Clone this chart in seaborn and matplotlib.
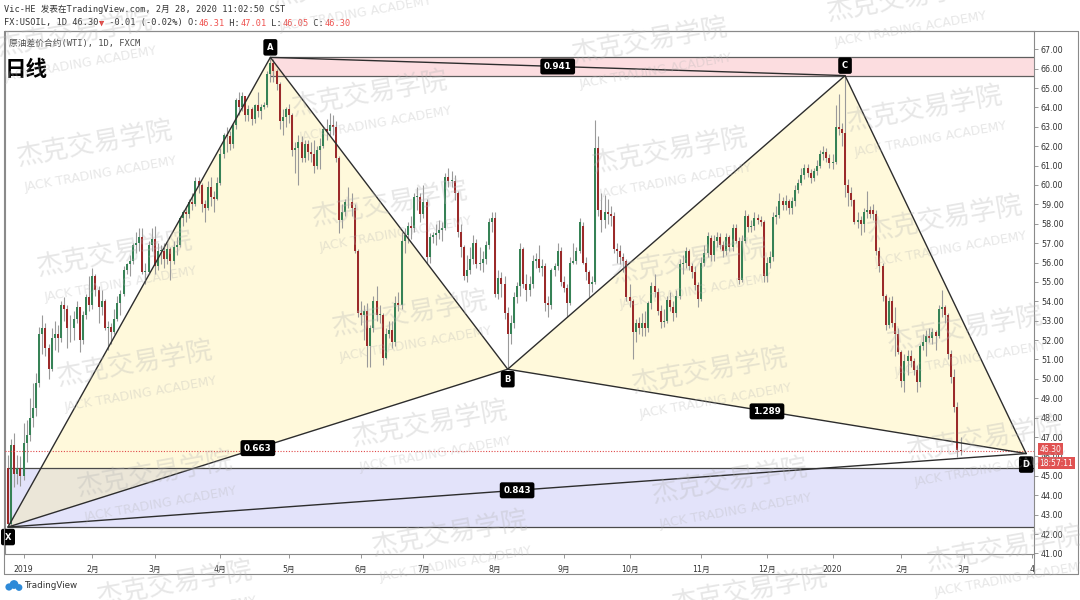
import numpy as np
import pandas as pd
import matplotlib
matplotlib.use("Agg")
import matplotlib.pyplot as plt
import seaborn as sns
from matplotlib.patches import Rectangle, Polygon, Ellipse
from matplotlib.lines import Line2D

# ---------------- data (USOIL CFD, daily) ----------------
opens = [
    45.4, 42.5, 46.6, 45.1, 45.4,  # 2018-12
    45.0, 46.7, 47.1, 48.0, 48.5, 49.8, 52.3, 52.6, 51.6, 50.5, 52.1, 52.3, 52.1, 53.8, 53.6, 52.6, 52.6, 53.1, 53.7, 52.0, 53.3, 54.2,
    53.8, 55.3, 54.6, 53.7, 54.0, 52.6, 52.7, 52.4, 53.1, 53.9, 54.4, 55.6, 55.9, 56.1, 56.9, 57.0, 57.3, 55.5, 55.5, 56.9,
    57.2, 55.8, 56.6, 56.6, 56.2, 56.7, 56.1, 56.8, 56.9, 58.3, 58.6, 58.5, 59.1, 59.0, 60.2, 60.0, 59.0, 58.8, 59.9, 59.4, 59.3,
    60.1, 61.6, 62.6, 62.5, 62.1, 63.1, 64.4, 64.0, 64.6, 63.6, 63.9, 63.4, 64.1, 63.8, 64.0, 64.1, 65.7, 66.3, 65.9, 65.2, 63.3, 63.5,
    63.9, 63.6, 61.8, 61.9, 62.2, 61.4, 62.1, 61.7, 61.6, 61.0, 61.8, 62.0, 62.9, 62.8, 63.1, 63.0, 61.4, 58.2, 58.6, 59.1, 59.1, 58.8, 56.6,
    53.4, 53.3, 53.5, 51.7, 52.6, 54.0, 53.3, 53.3, 51.1, 52.3, 52.5, 51.9, 53.9, 53.8, 57.1, 57.4, 57.9, 57.8, 59.4, 59.4,
    58.5, 59.1, 56.3, 57.3, 57.4, 57.5, 57.7, 57.8, 60.4, 60.2, 60.2, 59.6, 57.6, 56.8, 55.3, 55.6, 56.2, 57.0, 55.9, 56.0, 56.2, 56.9, 58.1,
    58.3, 54.4, 55.2, 54.9, 53.4, 52.3, 52.9, 54.2, 54.8, 56.7, 54.9, 54.6, 54.9, 56.1, 56.2, 55.7, 55.8, 53.9, 53.8, 55.6, 55.8, 56.6,
    55.0, 54.7, 53.9, 56.0, 56.1, 56.6, 57.9, 56.0, 55.5, 54.9, 55.0, 61.9, 58.7, 58.2, 58.6, 58.5, 58.4, 56.7, 56.6, 56.3, 56.1,
    54.2, 54.0, 52.4, 52.9, 52.6, 52.9, 52.6, 53.9, 54.8, 54.5, 53.5, 52.95, 53.0, 54.05, 53.7, 53.4, 54.3, 55.9, 56.0, 56.6, 55.8, 55.5, 54.85,
    54.1, 56.0, 56.5, 57.25, 56.4, 57.1, 57.3, 56.9, 56.6, 57.3, 56.8, 57.8, 57.1, 55.1, 57.1, 58.4, 57.85, 57.9, 58.3, 58.2, 58.1,
    55.3, 56.0, 56.3, 58.35, 58.45, 59.15, 58.95, 59.15, 58.8, 59.15, 59.75, 60.1, 60.5, 60.85, 60.6, 60.35, 60.7, 61.0, 61.6, 61.7, 61.4,
    61.15, 61.2, 63.0, 62.9, 62.7, 60.0, 59.6, 59.2, 58.1, 58.2, 58.0, 58.6, 58.7, 58.7, 58.5, 56.6, 55.8, 54.3, 52.8, 54.0, 52.9, 52.3,
    51.4, 49.9, 50.9, 51.2, 50.9, 50.45, 49.85, 51.7, 51.9, 52.2, 52.1, 52.4, 52.2, 53.6, 53.7, 53.3, 51.3, 50.1, 48.55, 46.31,
]
highs = [
    46.1, 46.9, 47.2, 46.1, 46.0,
    47.7, 47.9, 49.0, 49.8, 50.3, 52.7, 53.3, 52.9, 51.8, 52.6, 53.0, 52.8, 54.0, 54.2, 53.8, 53.3, 53.5, 54.0, 53.7, 53.5, 54.4, 55.3,
    55.7, 55.4, 54.8, 54.6, 54.1, 53.0, 52.9, 53.6, 54.3, 54.6, 55.8, 56.0, 56.4, 57.0, 57.6, 57.8, 57.8, 56.0, 57.1, 57.8,
    57.9, 57.0, 56.9, 57.0, 57.0, 56.8, 57.1, 57.3, 58.4, 58.7, 58.9, 59.3, 59.6, 60.4, 60.4, 60.1, 59.2, 60.2, 60.4, 59.7, 60.4,
    61.9, 62.7, 63.0, 62.8, 63.2, 64.5, 64.8, 64.8, 64.6, 64.1, 64.0, 64.2, 64.8, 64.2, 64.3, 65.9, 66.58, 66.5, 66.0, 65.3, 63.9, 64.0,
    64.2, 63.7, 62.2, 62.6, 62.5, 62.3, 62.3, 62.2, 62.3, 62.0, 62.4, 63.0, 63.4, 63.7, 63.6, 63.3, 61.5, 59.0, 59.3, 59.9, 59.6, 59.0, 56.7,
    54.0, 53.8, 53.9, 52.8, 54.3, 54.8, 53.8, 53.4, 52.6, 53.0, 53.0, 54.3, 54.5, 57.6, 57.8, 58.1, 58.4, 59.6, 59.9, 59.6,
    60.0, 59.3, 57.5, 57.6, 58.0, 58.2, 58.1, 60.6, 60.9, 60.7, 60.5, 59.7, 58.0, 56.9, 56.4, 56.8, 57.4, 57.2, 56.8, 56.6, 57.1, 58.3, 58.6,
    58.6, 55.6, 55.5, 55.3, 53.7, 53.3, 54.5, 55.0, 57.0, 56.8, 55.4, 55.3, 56.4, 56.5, 56.9, 56.2, 56.0, 54.3, 55.7, 56.0, 57.0, 56.8,
    55.3, 54.9, 56.3, 57.0, 56.8, 58.3, 58.1, 56.3, 55.6, 55.3, 63.35, 62.5, 59.6, 59.5, 59.3, 58.9, 58.6, 57.0, 56.9, 56.5, 56.2,
    54.9, 54.1, 53.1, 53.2, 53.4, 53.5, 54.0, 55.0, 55.4, 54.7, 53.8, 53.6, 54.3, 54.5, 54.0, 54.6, 56.2, 56.4, 56.8, 56.7, 56.0, 55.8, 55.0,
    56.3, 56.9, 57.6, 57.4, 57.4, 57.6, 57.5, 57.1, 57.5, 57.4, 58.0, 58.0, 57.3, 57.4, 58.7, 58.5, 58.2, 58.6, 58.5, 58.4, 58.2,
    56.3, 56.6, 58.6, 58.9, 59.6, 59.4, 59.5, 59.3, 59.4, 60.0, 60.3, 60.9, 61.1, 61.1, 60.8, 60.9, 61.3, 61.8, 62.0, 61.9, 61.6,
    61.6, 64.1, 64.7, 63.2, 65.64, 60.3, 59.9, 59.3, 58.6, 58.4, 58.8, 59.7, 58.9, 59.0, 58.7, 56.8, 56.0, 54.4, 54.2, 54.3, 53.7, 52.6,
    51.5, 51.3, 51.5, 51.5, 51.1, 50.7, 51.8, 52.3, 52.5, 52.6, 52.6, 52.5, 53.8, 54.6, 53.8, 53.4, 51.5, 50.5, 48.8, 47.01,
]
lows = [
    42.36, 42.4, 44.4, 44.6, 44.5,
    44.8, 45.7, 46.8, 47.5, 48.1, 49.6, 51.3, 51.2, 50.0, 50.4, 51.5, 51.4, 51.9, 53.0, 51.6, 51.9, 52.0, 52.9, 51.4, 51.8, 53.1, 53.5,
    53.6, 54.3, 52.9, 53.3, 52.5, 51.5, 51.8, 52.3, 53.0, 53.3, 54.3, 55.4, 55.3, 55.9, 56.5, 56.6, 55.4, 54.9, 55.4, 56.6,
    55.4, 55.6, 55.9, 55.7, 55.9, 55.1, 55.9, 56.4, 56.8, 57.9, 58.1, 58.3, 58.7, 58.9, 59.6, 58.6, 58.1, 58.7, 58.9, 58.6, 59.2,
    60.0, 61.4, 61.7, 61.8, 61.9, 62.9, 63.6, 63.8, 63.3, 63.3, 63.1, 63.2, 63.5, 63.4, 63.9, 64.0, 65.3, 65.3, 64.9, 62.9, 62.6, 63.0,
    63.2, 61.5, 60.6, 60.0, 61.2, 61.2, 61.3, 61.2, 60.6, 60.8, 60.8, 61.9, 62.3, 62.6, 62.6, 61.2, 57.5, 57.8, 58.4, 58.8, 58.4, 56.5, 53.2,
    52.8, 52.0, 50.6, 50.6, 52.4, 53.0, 52.9, 50.7, 51.0, 52.1, 51.6, 51.7, 53.5, 53.6, 56.5, 57.0, 57.2, 57.6, 58.7, 58.1,
    58.3, 56.0, 56.0, 57.0, 56.9, 57.2, 57.1, 57.7, 59.9, 59.9, 59.2, 57.3, 56.3, 55.1, 55.0, 55.4, 55.9, 55.7, 55.6, 55.5, 55.9, 56.7, 57.6,
    54.2, 54.1, 54.2, 53.1, 50.5, 51.8, 52.6, 53.9, 54.3, 54.7, 54.0, 54.3, 54.7, 55.7, 55.5, 55.3, 53.5, 53.2, 53.6, 55.3, 55.6, 54.8,
    54.5, 53.2, 53.8, 55.9, 55.9, 56.5, 55.9, 55.1, 54.2, 54.5, 54.9, 58.4, 57.6, 57.8, 58.0, 57.9, 56.5, 56.0, 55.9, 55.5, 54.0,
    53.7, 51.0, 51.9, 52.3, 52.2, 52.2, 52.4, 53.6, 54.2, 53.3, 52.6, 52.7, 52.9, 53.5, 53.0, 53.2, 54.1, 55.4, 55.7, 55.6, 55.2, 54.6, 53.7,
    54.0, 55.8, 56.3, 56.1, 56.1, 56.8, 56.7, 56.3, 56.4, 56.6, 56.6, 57.0, 54.9, 55.0, 57.0, 57.6, 57.6, 57.7, 58.0, 57.9, 55.0,
    55.0, 55.7, 56.1, 58.0, 58.3, 58.7, 58.7, 58.5, 58.5, 58.9, 59.6, 60.0, 60.3, 60.4, 60.1, 60.2, 60.5, 60.9, 61.3, 61.2, 60.9,
    60.8, 61.1, 62.6, 62.0, 59.4, 58.9, 58.9, 58.0, 57.8, 57.4, 57.6, 58.3, 58.3, 58.2, 56.4, 55.5, 54.0, 52.5, 52.6, 52.7, 51.2, 51.3,
    49.6, 49.3, 50.2, 50.6, 50.2, 49.3, 49.6, 51.5, 51.2, 51.9, 51.8, 51.5, 52.1, 53.2, 52.9, 51.0, 49.8, 48.3, 45.97, 46.05,
]
closes = [
    42.5, 46.6, 45.1, 45.4, 45.0,
    46.7, 47.1, 48.0, 48.5, 49.8, 52.3, 52.6, 51.6, 50.5, 52.1, 52.3, 52.1, 53.8, 53.6, 52.6, 52.6, 53.1, 53.7, 52.0, 53.3, 54.2, 53.8,
    55.3, 54.6, 53.7, 54.0, 52.6, 52.7, 52.4, 53.1, 53.9, 54.4, 55.6, 55.9, 56.1, 56.9, 57.0, 57.3, 55.5, 55.5, 56.9, 57.2,
    55.8, 56.6, 56.6, 56.2, 56.7, 56.1, 56.8, 56.9, 58.3, 58.6, 58.5, 59.1, 59.0, 60.2, 60.0, 59.0, 58.8, 59.9, 59.4, 59.3, 60.1,
    61.6, 62.6, 62.5, 62.1, 63.1, 64.4, 64.0, 64.6, 63.6, 63.9, 63.4, 64.1, 63.8, 64.0, 64.1, 65.7, 66.3, 65.9, 65.2, 63.3, 63.5, 63.9,
    63.6, 61.8, 61.9, 62.2, 61.4, 62.1, 61.7, 61.6, 61.0, 61.8, 62.0, 62.9, 62.8, 63.1, 63.0, 61.4, 58.2, 58.6, 59.1, 59.1, 58.8, 56.6, 53.4,
    53.3, 53.5, 51.7, 52.6, 54.0, 53.3, 53.3, 51.1, 52.3, 52.5, 51.9, 53.9, 53.8, 57.1, 57.4, 57.9, 57.8, 59.4, 59.4, 58.5,
    59.1, 56.3, 57.3, 57.4, 57.5, 57.7, 57.8, 60.4, 60.2, 60.2, 59.6, 57.6, 56.8, 55.3, 55.6, 56.2, 57.0, 55.9, 56.0, 56.2, 56.9, 58.1, 58.3,
    54.4, 55.2, 54.9, 53.4, 52.3, 52.9, 54.2, 54.8, 56.7, 54.9, 54.6, 54.9, 56.1, 56.2, 55.7, 55.8, 53.9, 53.8, 55.6, 55.8, 56.6, 55.0,
    54.7, 53.9, 56.0, 56.1, 56.6, 58.1, 56.0, 55.5, 54.9, 55.0, 61.9, 58.7, 58.2, 58.6, 58.5, 58.4, 56.7, 56.6, 56.3, 56.1, 54.2,
    54.0, 52.4, 52.9, 52.6, 52.9, 52.6, 53.9, 54.8, 54.5, 53.5, 52.95, 53.0, 54.05, 53.7, 53.4, 54.3, 55.9, 56.0, 56.6, 55.8, 55.5, 54.85, 54.1,
    56.0, 56.5, 57.35, 56.4, 57.1, 57.3, 56.9, 56.6, 57.3, 56.8, 57.8, 57.1, 55.1, 57.1, 58.4, 57.85, 57.9, 58.3, 58.2, 58.1, 55.3,
    56.0, 56.3, 58.35, 58.45, 59.15, 58.95, 59.15, 58.8, 59.15, 59.75, 60.1, 60.5, 60.85, 60.6, 60.35, 60.7, 61.0, 61.6, 61.7, 61.4, 61.15,
    61.2, 63.0, 62.9, 62.7, 60.0, 59.6, 59.2, 58.1, 58.2, 58.0, 58.6, 58.7, 58.5, 58.5, 56.6, 55.8, 54.3, 52.8, 54.0, 52.9, 52.3, 51.4,
    49.9, 50.9, 51.2, 50.9, 50.45, 49.85, 51.7, 51.9, 52.2, 52.1, 52.4, 52.2, 53.6, 53.7, 53.3, 51.3, 50.1, 48.55, 46.31, 46.30,
]
holidays = ["2018-12-25", "2019-01-01", "2019-12-25", "2020-01-01"]
month_labels = ["2019", "2月", "3月", "4月", "5月", "6月", "7月", "8月", "9月",
                "10月", "11月", "12月", "2020", "2月", "3月", "4"]
price_ticks = list(range(41, 68))

pattern_names = ["X", "A", "B", "C", "D"]
pattern_idx = [0, 84, 160, 268, 326]
pattern_price = [42.36, 66.58, 50.50, 65.64, 46.15]
ratio_pairs = [("A", "C"), ("X", "B"), ("B", "D"), ("X", "D")]
ratio_text = ["0.941", "0.663", "1.289", "0.843"]
lower_zone = [42.36, 45.39]
last_price = 46.30
countdown = "18:57:11"

# ---------------- style ----------------
sns.set_theme(style="white")
plt.rcParams["font.family"] = ["DejaVu Sans", "Noto Sans CJK SC"]
plt.rcParams["axes.unicode_minus"] = False
MONO = ["DejaVu Sans Mono", "Noto Sans CJK SC", "DejaVu Sans"]
CJK = ["Noto Sans CJK SC", "DejaVu Sans"]

W, H = 1080, 600
fig = plt.figure(figsize=(W / 100, H / 100), dpi=100)
fig.patch.set_facecolor("white")
L, R, T, B = 5, 1034, 31, 554
ax = fig.add_axes([L / W, 1 - B / H, (R - L) / W, (B - T) / H])
ax.set_facecolor("white")

cal = pd.bdate_range("2018-12-24", "2020-04-30")
cal = cal[~cal.isin(pd.to_datetime(holidays))]
pos = np.arange(len(cal))
n = len(closes)
df = pd.DataFrame({"date": cal[:n], "x": pos[:n], "open": opens, "high": highs,
                   "low": lows, "close": closes})

XLIM = (-0.96, 328.5)
YLIM = (40.97, 67.94)
xr = XLIM[1]

pat = pd.DataFrame({"name": pattern_names, "x": pattern_idx, "price": pattern_price}).set_index("name")
Xp, Ap, Bp, Cp, Dp = [(pat.loc[k, "x"], pat.loc[k, "price"]) for k in pattern_names]

# zones
ax.add_patch(Rectangle((Ap[0], Cp[1]), xr - Ap[0], Ap[1] - Cp[1], fc="#fcdde0", ec="none", zorder=1))
ax.hlines([Cp[1], Ap[1]], Ap[0], xr, color="#5e5e5e", lw=0.9, zorder=1.5)
ax.add_patch(Rectangle((Xp[0], lower_zone[0]), xr - Xp[0], lower_zone[1] - lower_zone[0],
                       fc="#e3e3fa", ec="none", zorder=1))
ax.hlines(lower_zone, Xp[0], xr, color="#4a4a4a", lw=0.9, zorder=1.5)

# triangles
ax.add_patch(Polygon([Xp, Ap, Bp], closed=True, fc="#ffee8a", alpha=0.3, ec="none", zorder=1.2))
ax.add_patch(Polygon([Bp, Cp, Dp], closed=True, fc="#ffee8a", alpha=0.3, ec="none", zorder=1.2))

# candles
up = df["close"] >= df["open"]
UPC, DNC, WICK = "#368256", "#9b2a2a", "#9a9a9a"
ax.vlines(df["x"], df["low"], df["high"], color=WICK, lw=0.8, zorder=2.9)
body_h = (df["close"] - df["open"]).abs().clip(lower=0.04)
body_b = df[["open", "close"]].min(axis=1)
ax.bar(df["x"][up], body_h[up], bottom=body_b[up], width=0.64, color=UPC, lw=0, zorder=3)
ax.bar(df["x"][~up], body_h[~up], bottom=body_b[~up], width=0.64, color=DNC, lw=0, zorder=3)

# last price dotted line
ax.axhline(last_price, color="#e04848", lw=0.8, ls=(0, (1, 1.5)), zorder=3.5)

# pattern lines (seaborn)
LC = "#2d2d2d"
sns.lineplot(x=pat["x"].values, y=pat["price"].values, sort=False, estimator=None,
             color=LC, lw=1.0, ax=ax, zorder=4)
for a, b in [("X", "B"), ("B", "D"), ("A", "C"), ("X", "D")]:
    seg = pat.loc[[a, b]]
    sns.lineplot(x=seg["x"].values, y=seg["price"].values, sort=False, estimator=None,
                 color=LC, lw=1.0, ax=ax, zorder=4)

# point labels
label_off = {"X": -10, "A": 10, "B": -10, "C": 10, "D": -11}
for k in pattern_names:
    ax.annotate(k, xy=(pat.loc[k, "x"], pat.loc[k, "price"]), xytext=(0, label_off[k] * 0.72),
                textcoords="offset points", ha="center", va="center", color="white",
                fontsize=6, fontweight="bold", annotation_clip=False, zorder=8,
                bbox=dict(boxstyle="round,pad=0.45,rounding_size=0.25", fc="black", ec="none"))
for (a, b), t in zip(ratio_pairs, ratio_text):
    mx = (pat.loc[a, "x"] + pat.loc[b, "x"]) / 2
    my = (pat.loc[a, "price"] + pat.loc[b, "price"]) / 2
    ax.annotate(t, xy=(mx, my), ha="center", va="center", color="white", fontsize=6.3,
                fontweight="bold", zorder=8,
                bbox=dict(boxstyle="round,pad=0.4,rounding_size=0.25", fc="black", ec="none"))

ax.set_xlim(*XLIM)
ax.set_ylim(*YLIM)
ax.set_xlabel("")
ax.set_ylabel("")
ax.grid(False)

# axes / ticks
ax.yaxis.tick_right()
ax.set_yticks(price_ticks)
ax.set_yticklabels([f"{v:.2f}" for v in price_ticks])
ax.tick_params(axis="y", length=3, width=0.6, color="#888888", labelsize=5.8,
               labelcolor="#333333", pad=2)
month_pos = [int(pos[i]) for i in range(1, len(cal)) if cal[i].month != cal[i - 1].month]
ax.set_xticks(month_pos)
ax.set_xticklabels(month_labels)
ax.tick_params(axis="x", length=3, width=0.6, color="#888888", labelsize=5.6,
               labelcolor="#333333", pad=5, direction="out", bottom=True)
for s in ax.spines.values():
    s.set_visible(True)
    s.set_color("#8a8a8a")
    s.set_linewidth(0.8)

# price labels on the scale
ax.annotate(f"{last_price:.2f}", xy=(1, last_price), xycoords=ax.get_yaxis_transform(),
            xytext=(4, 1.0), textcoords="offset points", ha="left", va="center",
            fontsize=5.5, color="white", zorder=12, annotation_clip=False,
            bbox=dict(boxstyle="square,pad=0.2", fc="#e05252", ec="none"))
ax.annotate(countdown, xy=(1, last_price), xycoords=ax.get_yaxis_transform(),
            xytext=(4, -9.0), textcoords="offset points", ha="left", va="center",
            fontsize=5.5, color="white", zorder=12, annotation_clip=False,
            bbox=dict(boxstyle="square,pad=0.2", fc="#e05252", ec="none"))

# frame
def fig_line(xs, ys, c="#8a8a8a", lw=0.8):
    fig.add_artist(Line2D([x / W for x in xs], [1 - y / H for y in ys], color=c, lw=lw,
                          transform=fig.transFigure))

fig_line([4, 1078], [31, 31])
fig_line([4, 1078], [574, 574])
fig_line([4, 4], [31, 574])
fig_line([1078, 1078], [31, 574])
fig_line([1034, 1034], [554, 574])

# header texts
fig.text(4 / W, 1 - 9 / H, "Vic-HE 发表在TradingView.com, 2月 28, 2020 11:02:50 CST",
         fontsize=6.2, family=MONO, color="#333333", va="center")
renderer = fig.canvas.get_renderer()
segs = [("FX:USOIL, 1D 46.30", "#333333"), ("▼", "#e53935"), (" -0.01 (-0.02%) O:", "#333333"),
        ("46.31", "#ef5350"), (" H:", "#333333"), ("47.01", "#ef5350"), (" L:", "#333333"),
        ("46.05", "#ef5350"), (" C:", "#333333"), ("46.30", "#ef5350")]
xpos = 4
for s, c in segs:
    t = fig.text(xpos / W, 1 - 23 / H, s, fontsize=6.2, family=MONO, color=c, va="center")
    bb = t.get_window_extent(renderer=renderer)
    xpos += bb.width
fig.text(9 / W, 1 - 43 / H, "原油差价合约(WTI), 1D, FXCM", fontsize=6.3, family=MONO,
         color="#4a4a4a", va="center")
fig.text(5 / W, 1 - 69 / H, "日线", fontsize=15.5, family=CJK, fontweight="bold",
         color="black", va="center")

# footer logo
for (cx, cy, r) in [(9, 587, 3.6), (14, 584.5, 4.4), (19, 587.5, 3.4)]:
    fig.add_artist(Ellipse((cx / W, 1 - cy / H), 2 * r / W, 2 * r / H, fc="#2e8ad8", ec="none",
                           transform=fig.transFigure))
fig.text(24 / W, 1 - 586 / H, "TradingView", fontsize=6.3, color="#333333", va="center")

# watermarks
x0 = [75, 350, 650, 905]
y0 = [35, -15, 42, 0]
for c in range(4):
    for r in range(6):
        wx, wy = x0[c] + 20 * r, y0[c] + 110 * r
        fig.text(wx / W, 1 - wy / H, "杰克交易学院", fontsize=19, family=CJK, color="#b5b5b5",
                 alpha=0.32, rotation=10, ha="center", va="center", zorder=30)
        fig.text((wx + 6) / W, 1 - (wy + 29) / H, "JACK TRADING ACADEMY", fontsize=9,
                 color="#b5b5b5", alpha=0.32, rotation=10, ha="center", va="center", zorder=30)

fig.savefig("out.png", dpi=100, facecolor="white")
